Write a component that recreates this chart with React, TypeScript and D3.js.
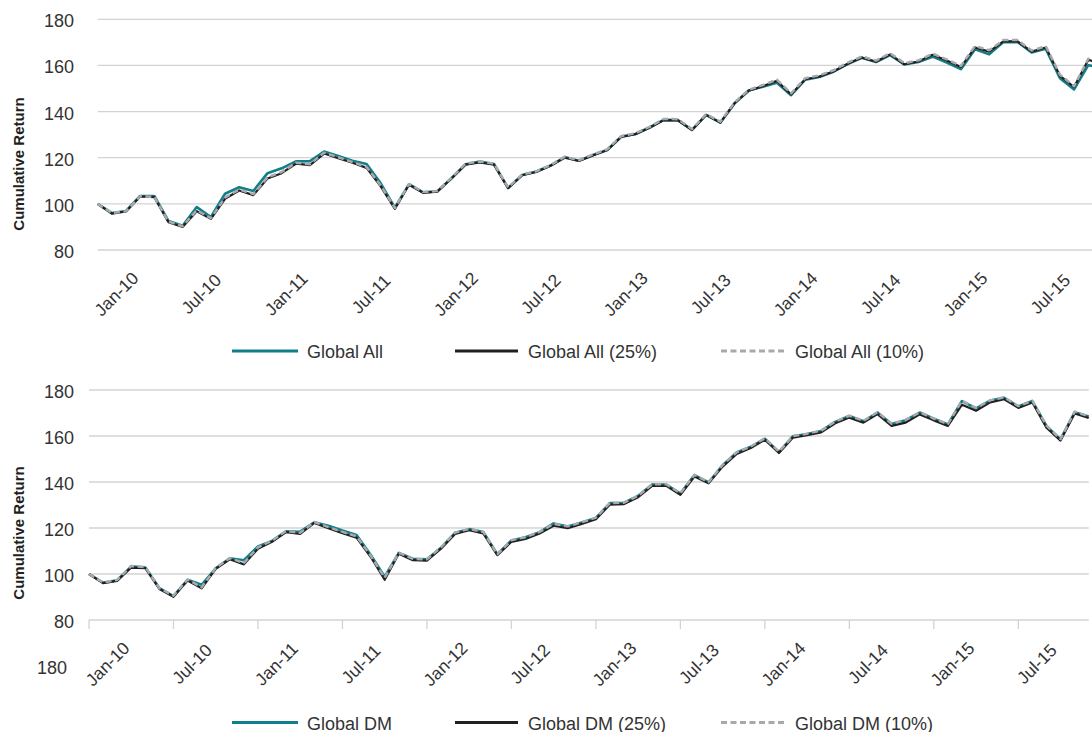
import * as d3 from "d3"

// month index 0 = Dec-09, last = Nov-15
const startMonth = new Date(2009, 11, 1)
const monthCount = 72

const yTicks = [80, 100, 120, 140, 160, 180]

const globalAll = [
  100, 96, 96.9, 103.4, 103.4, 92.6, 90.5, 98.6, 94.3, 104.4, 107.2, 105.6,
  113.3, 115.4, 118.4, 118.5, 122.7, 120.8, 118.7, 117.3, 108.9, 98.4, 108.5, 105,
  105.4, 111.1, 117.2, 118.3, 117.3, 106.9, 112.5, 114, 116.6, 120.3, 118.7, 121.2,
  123.4, 129.2, 130.3, 133.1, 136.4, 136.3, 132.1, 138.6, 135.2, 143.6, 149.1, 150.8,
  152.5, 147.1, 153.8, 155, 157.3, 160.6, 163.3, 161.5, 164.5, 160.4, 161.5, 163.8,
  161.2, 158.4, 167, 164.8, 170.1, 170.2, 165.6, 167.2, 154.5, 149.6, 160.1, 159,
]
const globalAll25 = [
  100, 95.8, 96.7, 103.2, 102.9, 92, 90, 96.8, 93.5, 102.2, 105.8, 103.8,
  111, 113.3, 117.4, 116.8, 121.8, 119.8, 117.8, 115.6, 107.6, 97.8, 108.3, 104.8,
  105.3, 111, 117, 118, 117, 106.8, 112.4, 113.8, 116.5, 120, 118.6, 121,
  123.2, 129, 130.2, 133, 136.3, 136.2, 132, 138.5, 135.2, 143.5, 149, 151,
  153.3, 147.4, 154, 155.2, 157.4, 160.7, 163.4, 161.6, 164.8, 160.5, 161.7, 164.6,
  162.1, 159.3, 167.8, 166, 170.4, 170.4, 166, 167.8, 155.5, 150.6, 162.4, 161,
]
const globalAll10 = [
  100, 96, 96.8, 103.3, 103, 92.3, 90.3, 97.2, 93.8, 102.7, 106.2, 104.2,
  111.5, 113.8, 117.8, 117.2, 122.2, 120.2, 118.1, 116, 108, 98.2, 108.6, 105.1,
  105.6, 111.3, 117.4, 118.4, 117.4, 107.1, 112.7, 114.1, 116.8, 120.4, 118.9, 121.4,
  123.6, 129.4, 130.6, 133.4, 136.8, 136.7, 132.4, 138.9, 135.6, 143.9, 149.4, 151.5,
  153.8, 147.9, 154.5, 155.7, 157.9, 161.2, 163.9, 162.1, 165.3, 161, 162.2, 165.1,
  162.6, 159.8, 168.4, 166.6, 171, 171, 166.5, 168.3, 156, 151, 162.9, 161.6,
]

const globalDM = [
  100, 96.2, 97.3, 103.3, 102.8, 93.8, 90.4, 97.5, 95.3, 102.5, 106.8, 106,
  112, 114.4, 118.6, 118.4, 122.5, 121, 118.9, 117, 108.4, 98.8, 109.2, 106.6,
  106.4, 111.4, 117.9, 119.5, 118.3, 108.6, 114.6, 116, 118.2, 122, 120.6, 122.4,
  124.4, 130.8, 131, 134, 138.9, 138.9, 135, 143, 139.8, 147.3, 152.8, 155.3,
  158.8, 153, 159.9, 160.9, 162.2, 166.1, 168.7, 166.4, 170.2, 165.2, 166.9, 170.2,
  167.5, 165, 175.2, 172, 175.4, 176.6, 172.8, 175.2, 164.4, 158.5, 170.3, 168.5,
]
const globalDM25 = [
  100, 96, 97, 102.8, 102.5, 93.5, 90.1, 97.2, 93.8, 102.2, 106.4, 104.2,
  111, 114, 118.2, 117.4, 122.2, 119.9, 117.7, 115.8, 107.5, 97.5, 108.8, 106,
  105.8, 111, 117.4, 119, 117.6, 108.2, 114, 115.2, 117.6, 121, 119.9, 121.8,
  123.8, 130.2, 130.4, 133.4, 138.3, 138.3, 134.4, 142.4, 139.4, 146.7, 152.2, 154.8,
  158.4, 152.6, 159.3, 160.4, 161.6, 165.5, 168, 165.8, 169.5, 164.4, 165.8, 169.4,
  166.8, 164.4, 173.6, 171, 174.6, 176, 172.2, 174.6, 163.6, 158, 169.8, 167.8,
]
const globalDM10 = [
  100, 96.3, 97.4, 103.5, 103, 93.8, 90.6, 97.6, 94.2, 102.6, 106.9, 104.8,
  111.6, 114.5, 118.7, 117.9, 122.6, 120.4, 118.3, 116.4, 108, 98.4, 109.2, 106.6,
  106.4, 111.6, 118, 119.6, 118.3, 108.6, 114.7, 116, 118.3, 121.8, 120.7, 122.5,
  124.5, 130.9, 131, 134, 139, 139, 135.1, 143.1, 139.9, 147.4, 152.9, 155.4,
  159, 153.2, 160, 161, 162.3, 166.3, 168.8, 166.6, 170.3, 165.3, 167, 170.3,
  167.6, 165.2, 175.3, 172.2, 175.5, 176.8, 173, 175.3, 164.5, 158.6, 170.6, 168.6,
]

const TEAL = "#117f89"
const BLACK = "#231f20"
const GRAY = "#a7a9ac"
const GRID = "#d3d3d3"
const TEXT = "#333333"
const FONT = "'Liberation Sans', Arial, sans-serif"

const months = d3.timeMonth.range(startMonth, d3.timeMonth.offset(startMonth, monthCount))
const fmt = d3.timeFormat("%b-%y")

interface Series {
  name: string
  values: number[]
  color: string
  width: number
  dash?: string
}

interface PanelProps {
  series: Series[]
  xRange: [number, number]
  yRange: [number, number]
  gridRight: number
  axisLine: boolean
  titleY: number
  legendY: number
}

const legendSlots = [
  [232, 298, 307],
  [455, 518, 528],
  [721, 787, 795],
]

function Panel({ series, xRange, yRange, gridRight, axisLine, titleY, legendY }: PanelProps) {
  const x = d3.scaleLinear().domain([0, monthCount - 1]).range(xRange)
  const y = d3.scaleLinear().domain([80, 180]).range(yRange)
  const line = d3.line<number>().x((_, i) => x(i)).y(d => y(d))
  const axisY = y(80)

  return (
    <g>
      {yTicks.map(t => (
        <g key={t}>
          <line x1={xRange[0]} x2={gridRight} y1={y(t)} y2={y(t)} stroke={GRID} strokeWidth={1.3} />
          <text x={74} y={y(t) + 2} textAnchor="end" dominantBaseline="central" fontSize={18} fill={TEXT}>{t}</text>
        </g>
      ))}
      {axisLine && months.map((m, i) => m.getMonth() % 6 === 5 ? (
        <line key={i} x1={x(i)} x2={x(i)} y1={axisY} y2={axisY + 9} stroke={GRID} strokeWidth={1.3} />
      ) : null)}
      {months.map((m, i) => m.getMonth() % 6 === 0 ? (
        <text key={"l" + i} transform={`translate(${x(i) + 4.5},${axisY + 44}) rotate(-45)`}
          textAnchor="middle" dominantBaseline="central" fontSize={17.5} fill={TEXT}>{fmt(m)}</text>
      ) : null)}
      <text transform={`translate(18.5,${titleY}) rotate(-90)`} textAnchor="middle" dominantBaseline="central"
        fontSize={15} fontWeight="bold" fill={BLACK}>Cumulative Return</text>
      {series.map(s => (
        <path key={s.name} d={line(s.values) ?? ""} fill="none" stroke={s.color} strokeWidth={s.width}
          strokeDasharray={s.dash} strokeLinejoin="round" />
      ))}
      {series.map((s, i) => (
        <g key={"lg" + s.name}>
          <line x1={legendSlots[i][0]} x2={legendSlots[i][1]} y1={legendY} y2={legendY}
            stroke={s.color} strokeWidth={3} strokeDasharray={s.dash ? "6,3.5" : undefined} />
          <text x={legendSlots[i][2]} y={legendY + 1} dominantBaseline="central" fontSize={18} fill={TEXT}>{s.name}</text>
        </g>
      ))}
    </g>
  )
}

export default function App() {
  const topSeries: Series[] = [
    { name: "Global All", values: globalAll, color: TEAL, width: 2.6 },
    { name: "Global All (25%)", values: globalAll25, color: BLACK, width: 2.2 },
    { name: "Global All (10%)", values: globalAll10, color: GRAY, width: 2.5, dash: "6,3.5" },
  ]
  const bottomSeries: Series[] = [
    { name: "Global DM", values: globalDM, color: TEAL, width: 2.6 },
    { name: "Global DM (25%)", values: globalDM25, color: BLACK, width: 2.2 },
    { name: "Global DM (10%)", values: globalDM10, color: GRAY, width: 2.5, dash: "6,3.5" },
  ]

  return (
    <svg width={1092} height={732} style={{ position: "absolute", left: 0, top: 0, background: "#fff" }}
      fontFamily={FONT}>
      <Panel series={topSeries} xRange={[97.7, 1102.4]} yRange={[250, 19.3]} gridRight={1092}
        axisLine={false} titleY={164} legendY={351} />
      <Panel series={bottomSeries} xRange={[89, 1088.7]} yRange={[620, 390]} gridRight={1088.7}
        axisLine={true} titleY={533} legendY={722.5} />
      <text x={67} y={668} textAnchor="end" dominantBaseline="central" fontSize={18} fill={TEXT}>180</text>
    </svg>
  )
}
